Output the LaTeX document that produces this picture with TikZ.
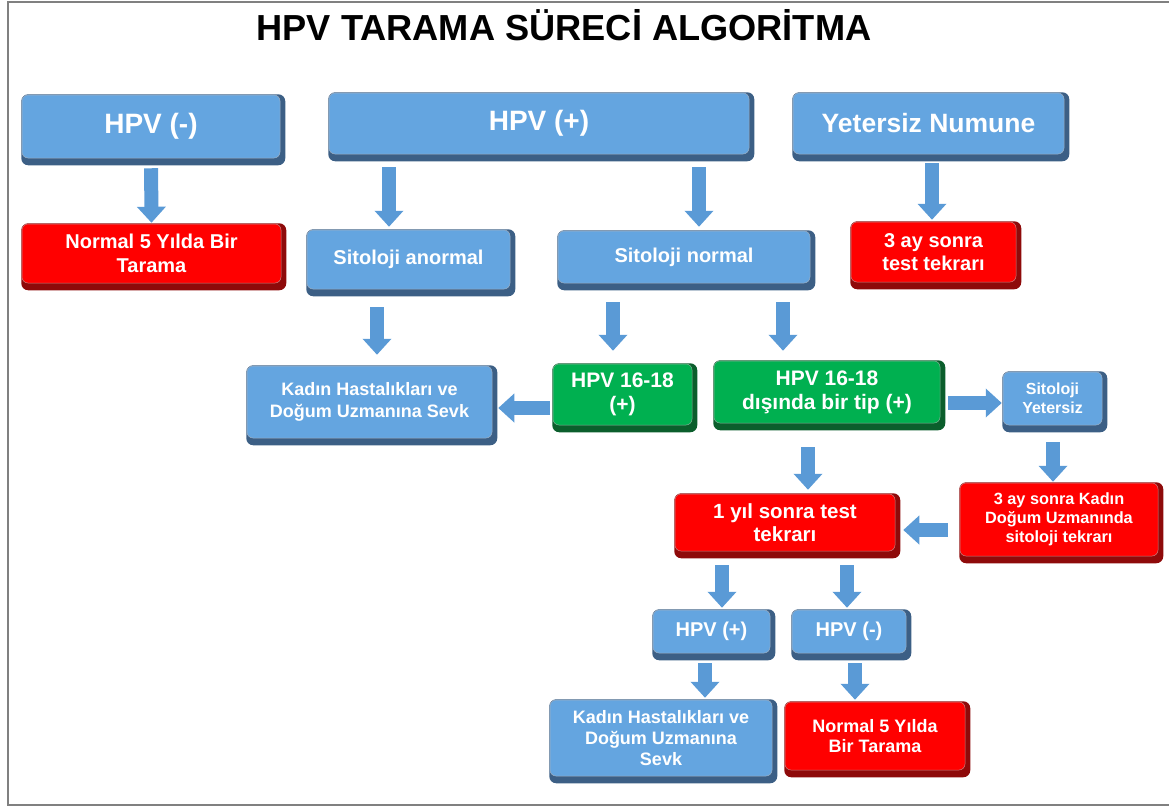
\documentclass[tikz,border=0pt]{standalone}
\usepackage{fontspec}
\setmainfont{Liberation Sans}
\usetikzlibrary{arrows.meta,backgrounds}
\definecolor{bfill}{HTML}{64A5E0}
\definecolor{bedge}{HTML}{3C5F85}
\definecolor{rfill}{HTML}{FF0000}
\definecolor{redge}{HTML}{8E0A0A}
\definecolor{gfill}{HTML}{00B050}
\definecolor{gedge}{HTML}{0B5E2C}
\definecolor{abl}{HTML}{5A9AD6}
\definecolor{frame}{HTML}{808080}
\begin{document}
\begin{tikzpicture}[x=1pt,y=-1pt,
  box/.style={rounded corners=6pt, align=center, text=white, font=\bfseries, inner sep=0pt},
  bluebox/.style={box, fill=bfill, draw=bedge!50, line width=0.5pt},
  redbox/.style={box, fill=rfill, draw=redge!50, line width=0.5pt},
  greenbox/.style={box, fill=gfill, draw=gedge!50, line width=0.5pt},
  boxshadow/.style={fill=#1, rounded corners=7pt},
  barrow/.style={draw=abl, line width=14pt, -{Triangle[width=28pt,length=16pt]}},
  fs/.style args={#1/#2}{font=\bfseries\fontsize{#1}{#2}\selectfont}
]
\useasboundingbox (0,0) rectangle (1169,807);
\draw[frame, line width=2pt] (1169,1.5) -- (8,1.5) -- (8,805) -- (1169,805);

\node[font=\bfseries\fontsize{36.2}{40}\selectfont] (title) at (564,25) {HPV TARAMA SÜRECİ ALGORİTMA};

\node[bluebox, fs=28/32, minimum width=258pt, minimum height=63pt] (hpvneg) at (151,126.5) {HPV (-)};
\node[redbox, fs=20/24, minimum width=259pt, minimum height=59pt] (norm1) at (151.5,253.5) {Normal 5 Yılda Bir\\Tarama};
\node[bluebox, fs=28/32, minimum width=420pt, minimum height=61pt] (hpvpos) at (539,123.5) {HPV (+)};
\node[bluebox, fs=20/24, minimum width=203pt, minimum height=59pt] (sitan) at (408.5,259.5) {Sitoloji anormal};
\node[bluebox, fs=20/24, minimum width=252pt, minimum height=52pt] (sitnor) at (684,257) {Sitoloji normal};
\node[bluebox, fs=26.5/30, minimum width=271pt, minimum height=61pt] (yet) at (928.5,123.5) {Yetersiz Numune};
\node[redbox, fs=20/23, minimum width=165pt, minimum height=60pt] (ay3) at (933.5,252) {3 ay sonra\\test tekrarı};
\node[bluebox, fs=18/22, minimum width=245pt, minimum height=72pt] (kadin1) at (369.5,402) {Kadın Hastalıkları ve\\Doğum Uzmanına Sevk};
\node[greenbox, fs=21/24, minimum width=139pt, minimum height=61pt] (hpv1618) at (622.5,394.5) {HPV 16-18\\(+)};
\node[greenbox, fs=21/24, minimum width=226pt, minimum height=62pt] (disinda) at (827,392) {HPV 16-18\\dışında bir tip (+)};
\node[bluebox, fs=16/19, minimum width=99pt, minimum height=53pt] (sity) at (1052.5,398.5) {Sitoloji\\Yetersiz};
\node[redbox, fs=16.3/19, minimum width=198pt, minimum height=73pt] (ay3k) at (1059,519.5) {3 ay sonra Kadın\\Doğum Uzmanında\\sitoloji tekrarı};
\node[redbox, fs=20.5/23, minimum width=220pt, minimum height=57pt] (yil1) at (785,522.5) {1 yıl sonra test\\tekrarı};
\node[bluebox, fs=20/24, minimum width=117pt, minimum height=43pt] (hpvp2) at (711.5,631.5) {HPV (+)};
\node[bluebox, fs=20/24, minimum width=114pt, minimum height=43pt] (hpvn2) at (849,631.5) {HPV (-)};
\node[bluebox, fs=18/21, minimum width=222pt, minimum height=76pt] (kadin2) at (661,738) {Kadın Hastalıkları ve\\Doğum Uzmanına\\Sevk};
\node[redbox, fs=18/20, minimum width=180pt, minimum height=68pt] (norm2) at (875,736) {Normal 5 Yılda\\Bir Tarama};

\begin{scope}[on background layer]
\foreach \n/\c in {hpvneg/bedge, norm1/redge, hpvpos/bedge, sitan/bedge, sitnor/bedge, yet/bedge, ay3/redge, kadin1/bedge, hpv1618/gedge, disinda/gedge, sity/bedge, ay3k/redge, yil1/redge, hpvp2/bedge, hpvn2/bedge, kadin2/bedge, norm2/redge}
  \fill[boxshadow=\c] ([xshift=-0.5pt,yshift=0.5pt]\n.north west) rectangle ([xshift=5pt,yshift=-7pt]\n.south east);
\end{scope}

\draw[barrow, shorten <=10pt, shorten >=1pt] (hpvneg.south) -- (norm1.north);
\draw[barrow, shorten <=13pt, shorten >=3pt] ([xshift=-150pt]hpvpos.south) -- ([xshift=-19.5pt]sitan.north);
\draw[barrow, shorten <=13pt, shorten >=4pt] ([xshift=160pt]hpvpos.south) -- ([xshift=15pt]sitnor.north);
\draw[barrow, shorten <=9pt, shorten >=2pt] ([xshift=3.5pt]yet.south) -- ([xshift=-1.5pt]ay3.north);
\draw[barrow, shorten <=18pt, shorten >=11pt] ([xshift=-31.5pt]sitan.south) -- ([xshift=7.5pt]kadin1.north);
\draw[barrow, shorten <=19pt, shorten >=13pt] ([xshift=-71pt]sitnor.south) -- ([xshift=-9.5pt]hpv1618.north);
\draw[barrow, shorten <=19pt, shorten >=10pt] ([xshift=99pt]sitnor.south) -- ([xshift=-44pt]disinda.north);
\draw[barrow, shorten <=3pt, shorten >=6pt] ([yshift=-13.5pt]hpv1618.west) -- ([yshift=-6pt]kadin1.east);
\draw[barrow, shorten <=8pt, shorten >=1pt] ([yshift=-11pt]disinda.east) -- ([yshift=-4.5pt]sity.west);
\draw[barrow, shorten <=24pt, shorten >=4pt] ([xshift=-19pt]disinda.south) -- ([xshift=23pt]yil1.north);
\draw[barrow, shorten <=17pt, shorten >=1pt] ([xshift=0.5pt]sity.south) -- ([xshift=-6pt]ay3k.north);
\draw[barrow, shorten <=12pt, shorten >=8pt] ([yshift=-10.5pt]ay3k.west) -- ([yshift=-7.5pt]yil1.east);
\draw[barrow, shorten <=14pt, shorten >=2pt] ([xshift=-63pt]yil1.south) -- ([xshift=10.5pt]hpvp2.north);
\draw[barrow, shorten <=14pt, shorten >=2pt] ([xshift=62pt]yil1.south) -- ([xshift=-2pt]hpvn2.north);
\draw[barrow, shorten <=10pt, shorten >=2pt] ([xshift=-6.5pt]hpvp2.south) -- ([xshift=44pt]kadin2.north);
\draw[barrow, shorten <=10pt, shorten >=2pt] ([xshift=6pt]hpvn2.south) -- ([xshift=-20pt]norm2.north);
\end{tikzpicture}
\end{document}
